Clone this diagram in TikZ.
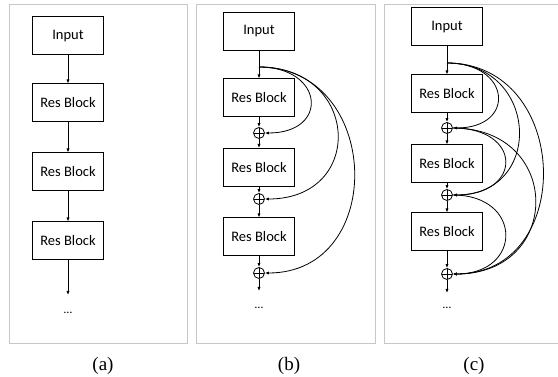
\documentclass[tikz,border=0pt]{standalone}
\usepackage{fontspec}
\setmainfont{Liberation Serif}
\newfontfamily\blkfont{Carlito}
\usetikzlibrary{arrows.meta}

\tikzset{
	blk/.style={draw, line width=1pt, minimum width=71pt, minimum height=38pt,
		inner sep=0pt, font=\blkfont\fontsize{14.5}{17}\selectfont},
	sumnode/.style={circle, draw, line width=0.8pt, minimum size=11pt, inner sep=0pt,
		path picture={
			\draw[line width=0.6pt] (path picture bounding box.north) -- (path picture bounding box.south);
			\draw[line width=0.6pt] (path picture bounding box.west) -- (path picture bounding box.east);}},
	flow/.style={line width=0.8pt, -{Latex[length=4pt,width=3.2pt]}},
	skip/.style={line width=0.8pt, -{Latex[length=4pt,width=3.2pt]}, out=0, in=0},
	dotsnode/.style={font=\blkfont\fontsize{12}{14}\selectfont, inner sep=0pt},
	panel/.style={draw=black!22, line width=1pt},
	captext/.style={font=\fontsize{19}{22}\selectfont, inner sep=0pt}
}

\begin{document}
\begin{tikzpicture}[x=1pt,y=-1pt]
	\useasboundingbox (0,0) rectangle (558,377);
	% panels
	\draw[panel] (9,5) rectangle (187,344);
	\draw[panel] (196,5) rectangle (375,344);
	\draw[panel] (558,5) -- (384,5) -- (384,344) -- (558,344);
	\node[captext] (capa) at (103,366) {(a)};
	\node[captext] (capb) at (289,366) {(b)};
	\node[captext] (capc) at (474,366) {(c)};

	% (a) plain chain
	\node[blk] (inA) at (68,36) {Input};
	\node[blk] (resA1) at (68,103) {Res Block};
	\node[blk] (resA2) at (68,172) {Res Block};
	\node[blk] (resA3) at (68,241) {Res Block};
	\coordinate (endA) at (68,295);
	\node[dotsnode] (dotsA) at (68,313) {\ldots};
	\draw[flow] (inA) -- (resA1);
	\draw[flow] (resA1) -- (resA2);
	\draw[flow] (resA2) -- (resA3);
	\draw[flow] (resA3) -- (endA);

	% (b) input added after every block
	\node[blk] (inB) at (259,31.5) {Input};
	\node[blk] (resB1) at (259,98) {Res Block};
	\node[sumnode] (plusB1) at (259,133) {};
	\node[blk] (resB2) at (259,167.5) {Res Block};
	\node[sumnode] (plusB2) at (259,199) {};
	\node[blk] (resB3) at (259,237) {Res Block};
	\node[sumnode] (plusB3) at (259,273) {};
	\coordinate (brB) at (259,67);
	\coordinate (endB) at (259,291);
	\node[dotsnode] (dotsB) at (259,308) {\ldots};
	\draw[flow] (inB) -- (resB1);
	\draw[flow] (resB1) -- (plusB1);
	\draw[flow] (plusB1) -- (resB2);
	\draw[flow] (resB2) -- (plusB2);
	\draw[flow] (plusB2) -- (resB3);
	\draw[flow] (resB3) -- (plusB3);
	\draw[flow] (plusB3) -- (endB);
	\draw[skip, distance=65] (brB) to (plusB1.east);
	\draw[skip, distance=101] (brB) to (plusB2.east);
	\draw[skip, distance=123] (brB) to (plusB3.east);

	% (c) dense connections
	\node[blk] (inC) at (447,27) {Input};
	\node[blk] (resC1) at (447,94) {Res Block};
	\node[sumnode] (plusC1) at (447,128) {};
	\node[blk] (resC2) at (447,164) {Res Block};
	\node[sumnode] (plusC2) at (447,195) {};
	\node[blk] (resC3) at (447,232) {Res Block};
	\node[sumnode] (plusC3) at (447,274) {};
	\coordinate (brC) at (447,63);
	\coordinate (endC) at (447,293);
	\node[dotsnode] (dotsC) at (447,308) {\ldots};
	\draw[flow] (inC) -- (resC1);
	\draw[flow] (resC1) -- (plusC1);
	\draw[flow] (plusC1) -- (resC2);
	\draw[flow] (resC2) -- (plusC2);
	\draw[flow] (plusC2) -- (resC3);
	\draw[flow] (resC3) -- (plusC3);
	\draw[flow] (plusC3) -- (endC);
	\draw[skip, distance=64] (brC) to (plusC1.east);
	\draw[skip, distance=92] (brC) to (plusC2.east);
	\draw[skip, distance=124] (brC) to (plusC3.east);
	\draw[skip, distance=70] (plusC1.east) to (plusC2.east);
	\draw[skip, distance=110] (plusC1.east) to (plusC3.east);
	\draw[skip, distance=70] (plusC2.east) to (plusC3.east);
\end{tikzpicture}
\end{document}
